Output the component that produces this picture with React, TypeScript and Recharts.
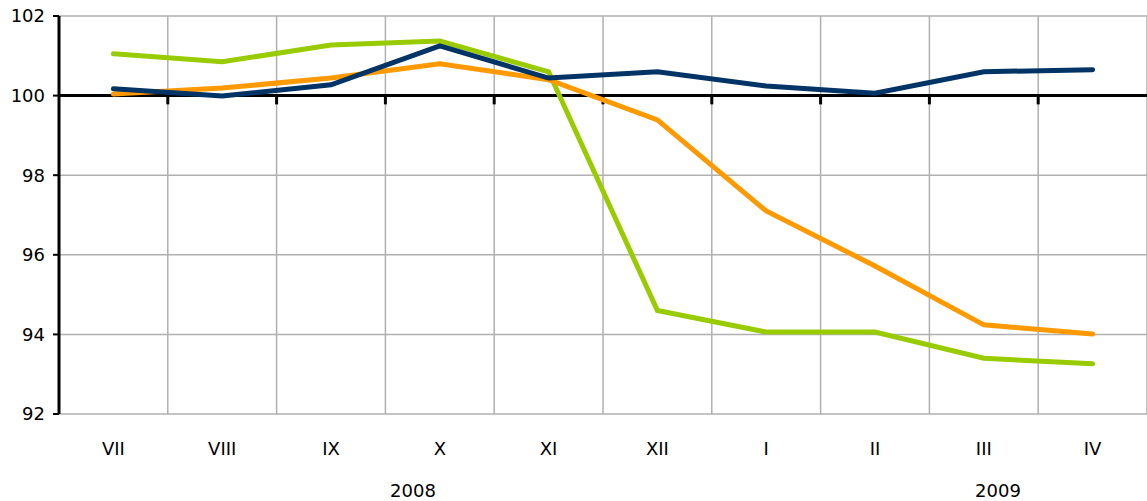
import React from "react";
import {
  CartesianGrid,
  Line,
  LineChart,
  ReferenceLine,
  XAxis,
  YAxis,
} from "recharts";

const months = ["VII", "VIII", "IX", "X", "XI", "XII", "I", "II", "III", "IV"];
const green = [101.05, 100.85, 101.27, 101.37, 100.6, 94.6, 94.06, 94.06, 93.4, 93.26];
const orange = [100.04, 100.19, 100.44, 100.8, 100.4, 99.39, 97.1, 95.72, 94.24, 94.01];
const blue = [100.17, 99.99, 100.27, 101.25, 100.44, 100.6, 100.24, 100.06, 100.6, 100.65];
const yTicks = [92, 94, 96, 98, 100, 102];
const years = [
  { label: "2008", left: 413 },
  { label: "2009", left: 998 },
];

const data = months.map((m, i) => ({
  idx: i,
  month: m,
  green: green[i],
  orange: orange[i],
  blue: blue[i],
}));

// category boundaries, used for vertical grid and the ticks on the 100 line
const bounds = months.slice(1).map((_, i) => i + 0.5);
const centers = months.map((_, i) => i);

const font = "'DejaVu Sans', Verdana, sans-serif";

const MonthTick = (props: any) => {
  const { x, y, payload } = props;
  return (
    <text
      x={x}
      y={y + 4}
      textAnchor="middle"
      dominantBaseline="central"
      fontFamily={font}
      fontSize={18}
      fill="#000"
    >
      {months[payload.value]}
    </text>
  );
};

const App = () => {
  return (
    <div style={{ position: "absolute", left: 0, top: 0, width: 1147, height: 501 }}>
      <LineChart
        width={1147}
        height={501}
        data={data}
        margin={{ top: 16, right: 0, bottom: 47, left: 0 }}
      >
        <CartesianGrid stroke="#b0b0b0" strokeWidth={1.5} />
        <XAxis
          xAxisId={0}
          type="number"
          dataKey="idx"
          domain={[-0.5, 9.5]}
          ticks={bounds}
          hide
        />
        <XAxis
          xAxisId="lab"
          type="number"
          dataKey="idx"
          domain={[-0.5, 9.5]}
          ticks={centers}
          interval={0}
          axisLine={false}
          tickLine={false}
          tickSize={0}
          tickMargin={0}
          height={40}
          tick={<MonthTick />}
        />
        <YAxis
          domain={[92, 102]}
          ticks={yTicks}
          width={59}
          axisLine={{ stroke: "#000", strokeWidth: 3 }}
          tickLine={{ stroke: "#000", strokeWidth: 2 }}
          tickSize={6}
          tickMargin={8}
          tick={{ fill: "#000", fontSize: 18, fontFamily: font }}
        />
        <ReferenceLine y={100} stroke="#000" strokeWidth={3} />
        {bounds.map((b) => (
          <ReferenceLine
            key={b}
            segment={[
              { x: b, y: 100 },
              { x: b, y: 99.78 },
            ]}
            stroke="#000"
            strokeWidth={3}
          />
        ))}
        <Line
          dataKey="green"
          stroke="#99cc00"
          strokeWidth={5}
          strokeLinecap="round"
          dot={false}
          activeDot={false}
          isAnimationActive={false}
        />
        <Line
          dataKey="orange"
          stroke="#ff9900"
          strokeWidth={5}
          strokeLinecap="round"
          dot={false}
          activeDot={false}
          isAnimationActive={false}
        />
        <Line
          dataKey="blue"
          stroke="#003366"
          strokeWidth={5}
          strokeLinecap="round"
          dot={false}
          activeDot={false}
          isAnimationActive={false}
        />
      </LineChart>
      {years.map((y) => (
        <div
          key={y.label}
          style={{
            position: "absolute",
            left: y.left,
            top: 490,
            transform: "translate(-50%, -50%)",
            fontFamily: font,
            fontSize: 18,
            color: "#000",
          }}
        >
          {y.label}
        </div>
      ))}
    </div>
  );
};

export default App;
